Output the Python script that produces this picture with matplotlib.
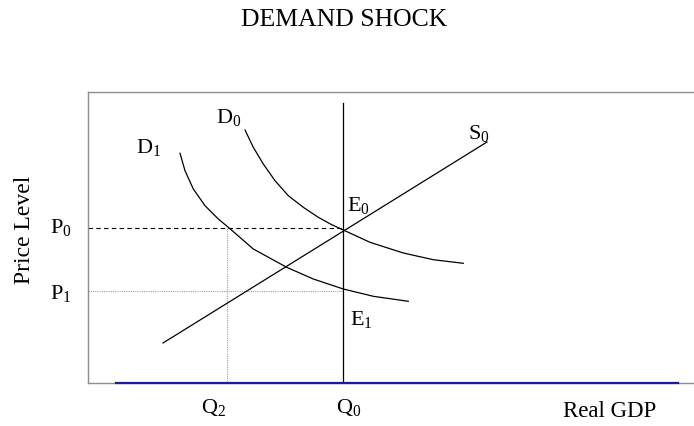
import matplotlib
matplotlib.use("Agg")
import matplotlib.pyplot as plt

plt.rcParams['font.family'] = ['Liberation Serif', 'DejaVu Serif']
plt.rcParams['mathtext.fontset'] = 'custom'
plt.rcParams['mathtext.rm'] = 'Liberation Serif'
plt.rcParams['mathtext.it'] = 'Liberation Serif'

# Conceptual curves (arbitrary units)
d0_x = [157.0, 165.3, 175.3, 187.0, 200.3, 215.3, 230.3, 243.7, 255.3, 282.0, 315.3, 345.3, 375.3]
d0_y = [253.0, 235.7, 219.0, 202.3, 187.3, 175.7, 165.7, 158.3, 153.0, 140.7, 130.0, 123.3, 119.7]
d1_x = [92.0, 97.0, 105.3, 117.0, 130.3, 140.3, 165.3, 198.7, 225.3, 255.3, 285.3, 320.3]
d1_y = [229.7, 212.3, 194.0, 177.3, 164.0, 155.7, 134.0, 115.7, 104.0, 94.0, 86.7, 81.7]
s0_x = [75.0, 399.0]
s0_y = [40.0, 241.0]
q0 = 255.3
q0_top = 280.0
q2 = 139.0
p0 = 155.0
p1 = 92.0
x_base = [28.0, 590.0]

W, H = 694, 427
fig = plt.figure(figsize=(W / 100, H / 100), dpi=100)
ax = fig.add_axes([88 / W, 43 / H, (720 - 88) / W, 291 / H])
ax.set_xlim(0, 632)
ax.set_ylim(0, 291)
ax.set_xticks([])
ax.set_yticks([])
for s in ['left', 'top', 'bottom']:
    ax.spines[s].set_color('#8c8c8c')
    ax.spines[s].set_linewidth(1.0)
ax.spines['right'].set_visible(False)

# guide lines
ax.plot([0, q0], [p0, p0], color='black', lw=0.8, ls=(0, (4, 3)))
ax.plot([0, q0], [p1, p1], color='#a0a0a0', lw=0.8, ls=(0, (1, 1)))
ax.plot([q2, q2], [0, p0], color='#a0a0a0', lw=0.8, ls=(0, (1, 1)))

# curves
ax.plot(d0_x, d0_y, color='black', lw=0.9, solid_joinstyle='round')
ax.plot(d1_x, d1_y, color='black', lw=0.9, solid_joinstyle='round')
ax.plot(s0_x, s0_y, color='black', lw=0.9)
ax.plot([q0, q0], [0, q0_top], color='black', lw=0.9)

# blue base line
ax.plot(x_base, [0, 0], color='#1a1a9a', lw=1.6, clip_on=False, zorder=5)

fs = 16
# curve labels
ax.text(141, 267, 'D$_\\mathrm{0}$', fontsize=fs, ha='center', va='center')
ax.text(61, 236, 'D$_\\mathrm{1}$', fontsize=fs, ha='center', va='center')
ax.text(391, 251, 'S$_\\mathrm{0}$', fontsize=fs, ha='center', va='center')
ax.text(270, 178, 'E$_\\mathrm{0}$', fontsize=fs, ha='center', va='center')
ax.text(273, 65, 'E$_\\mathrm{1}$', fontsize=fs, ha='center', va='center')

# axis labels
ax.text(-27, p0 + 1, 'P$_\\mathrm{0}$', fontsize=fs, ha='center', va='center', clip_on=False)
ax.text(-27, p1 - 1, 'P$_\\mathrm{1}$', fontsize=fs, ha='center', va='center', clip_on=False)
ax.text(q2 - 13, -24, 'Q$_\\mathrm{2}$', fontsize=fs, ha='center', va='center', clip_on=False)
ax.text(q0 + 5, -24, 'Q$_\\mathrm{0}$', fontsize=fs, ha='center', va='center', clip_on=False)

fig.text(610 / W, 1 - 412 / H, 'Real GDP', fontsize=16.5, ha='center', va='center')
fig.text(24 / W, 1 - 230 / H, 'Price Level', fontsize=17, ha='center', va='center', rotation=90)
fig.text(344 / W, 1 - 20 / H, 'DEMAND SHOCK', fontsize=18.5, ha='center', va='center')

fig.savefig('out.png', dpi=100)
